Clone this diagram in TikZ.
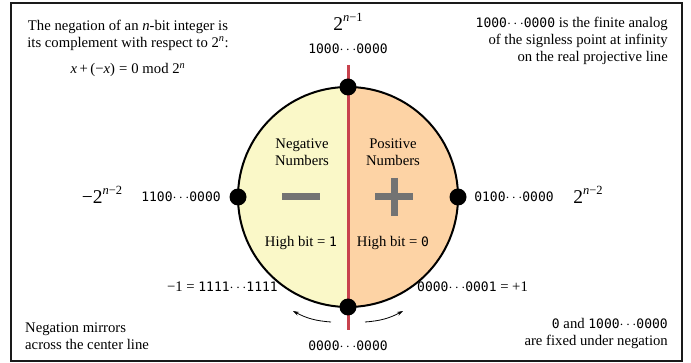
\documentclass[tikz,border=0pt]{standalone}
\usepackage{fontspec}
\setmainfont{Liberation Serif}
\setmonofont{DejaVu Sans Mono}
\usetikzlibrary{arrows.meta}
\definecolor{negfill}{HTML}{FAF8C8}
\definecolor{posfill}{HTML}{FDD3A5}
\definecolor{axisred}{HTML}{C8424E}
\definecolor{signgray}{HTML}{737373}
\definecolor{framegray}{HTML}{1A1A1A}
\newcommand{\bt}[1]{{\fontsize{13}{15}\selectfont\texttt{#1}}}
\newcommand{\dts}{$\cdots$}
\newcommand{\pw}[1]{2\raisebox{1.05ex}{\fontsize{12.5}{12.5}\selectfont #1}}
\begin{document}
\begin{tikzpicture}[x=1pt,y=-1pt,
  txt/.style={font=\fontsize{14.7}{17}\selectfont, inner sep=0pt, align=center},
  big/.style={font=\fontsize{19.5}{20}\selectfont, inner sep=0pt},
  dot/.style={circle, fill=black, minimum size=17pt, inner sep=0pt},
  sign/.style={signgray, line width=7pt},
  flip/.style={-{Stealth[length=6pt,width=4pt]}, line width=0.8pt}]
\fill[white] (0,0) rectangle (691,363);
\coordinate (F1) at (11,3);
\coordinate (F2) at (682,361);
\draw[framegray, line width=1.6pt] (F1) rectangle (F2);
% circle halves
\coordinate (C) at (348,197);
\fill[negfill] (C) circle[radius=110pt];
\begin{scope}
  \clip (348,80) rectangle (470,320);
  \fill[posfill] (C) circle[radius=110pt];
\end{scope}
\coordinate (axT) at (348,65);
\coordinate (axB) at (348,330);
\draw[axisred, line width=3pt] (axT) -- (axB);
\draw[line width=2pt] (C) circle[radius=110pt];
\node[dot] (top) at (348,87) {};
\node[dot] (bot) at (348,307) {};
\node[dot] (lft) at (238,197) {};
\node[dot] (rgt) at (458,197) {};
% signs
\coordinate (m1) at (282,197); \coordinate (m2) at (320,197);
\draw[sign] (m1) -- (m2);
\coordinate (p1) at (375,197); \coordinate (p2) at (413,197);
\coordinate (p3) at (394,178); \coordinate (p4) at (394,216);
\draw[sign] (p1) -- (p2);
\draw[sign] (p3) -- (p4);
% region labels
\node[txt] (neg) at (302,152) {Negative\\Numbers};
\node[txt] (pos) at (393,152) {Positive\\Numbers};
\node[txt] (hb1) at (301,243) {High bit = \bt{1}};
\node[txt] (hb0) at (393,243) {High bit = \bt{0}};
% point labels
\node[big] (ptop) at (348,22) {\pw{\textit{n}−1}};
\node[txt] (btop) at (348,49) {\bt{1000}\dts\bt{0000}};
\node[big] (plft) at (102,195) {−\pw{\textit{n}−2}};
\node[txt] (blft) at (181,197) {\bt{1100}\dts\bt{0000}};
\node[txt] (brgt) at (514,197) {\bt{0100}\dts\bt{0000}};
\node[big] (prgt) at (588,195) {\pw{\textit{n}−2}};
\node[txt, anchor=east] (mone) at (278,287) {−1 = \bt{1111}\dts\bt{1111}};
\node[txt, anchor=west] (pone) at (417,287) {\bt{0000}\dts\bt{0001} = +1};
\node[txt] (bbot) at (348,346) {\bt{0000}\dts\bt{0000}};
% flip arrows
\coordinate (a1s) at (331,322); \coordinate (a1e) at (293,311);
\coordinate (a2s) at (365,322); \coordinate (a2e) at (403,311);
\draw[flip] (a1s) to[bend left=12] (a1e);
\draw[flip] (a2s) to[bend right=12] (a2e);
% corner notes
\node[txt] (ntl) at (128,35) {The negation of an \textit{n}-bit integer is\\its complement with respect to 2\textsuperscript{\textit{n}}:};
\node[txt] (ftl) at (128,70) {\textit{x}\,+\,(−\textit{x})\;=\;0 mod 2\textsuperscript{\textit{n}}};
\node[txt, align=right, anchor=north east] (ntr) at (668,17) {\bt{1000}\dts\bt{0000} is the finite analog\\of the signless point at infinity\\on the real projective line};
\node[txt, align=left, anchor=south west] (nbl) at (25,350) {Negation mirrors\\across the center line};
\node[txt, align=right, anchor=south east] (nbr) at (668,349) {\bt{0} and \bt{1000}\dts\bt{0000}\\are fixed under negation};
\end{tikzpicture}
\end{document}
